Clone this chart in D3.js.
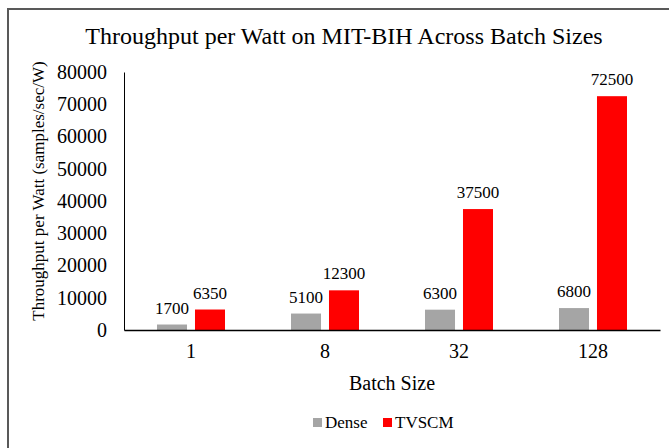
<!DOCTYPE html>
<html>
<head>
<meta charset="utf-8">
<script src="https://cdn.jsdelivr.net/npm/d3@7"></script>
<style>
  body { margin: 0; background: #fff; }
</style>
</head>
<body>
<div id="chart"></div>
<script>
// Chart data
const batchSizes = ["1", "8", "32", "128"];
const seriesNames = ["Dense", "TVSCM"];
const denseValues = [1700, 5100, 6300, 6800];
const tvscmValues = [6350, 12300, 37500, 72500];
const yTicks = [0, 10000, 20000, 30000, 40000, 50000, 60000, 70000, 80000];
const seriesColors = ["#a5a5a5", "#ff0000"];

const width = 669, height = 448;
const plot = {left: 124, right: 660, top: 72, bottom: 330};
const serif = "\"Liberation Serif\"";

let svg = d3.select("#chart")
            .append("svg")
            .attr("width", width)
            .attr("height", height)
            .style("font-family", serif);

// Chart border (right and bottom edges fall outside the picture)
svg.append("rect")
    .attr("x", 8)
    .attr("y", 9)
    .attr("width", 680)
    .attr("height", 460)
    .attr("fill", "white")
    .attr("stroke", "#595959")
    .attr("stroke-width", 2);

// Title
svg.append("text")
    .attr("x", 344)
    .attr("y", 44)
    .attr("text-anchor", "middle")
    .style("font-family", serif)
    .style("font-size", "24px")
    .text("Throughput per Watt on MIT-BIH Across Batch Sizes");

// Scales
let xScale = d3.scaleBand()
                .domain(batchSizes)
                .range([plot.left, plot.right]);

let xInner = d3.scaleBand()
                .domain(seriesNames)
                .range([33, xScale.bandwidth() - 33])
                .paddingInner(0.21);

let yScale = d3.scaleLinear()
                .domain([0, 80000])
                .range([plot.bottom, plot.top]);

// Y axis
let yAxis = svg.append("g")
    .attr("transform", `translate(${plot.left},0)`)
    .call(d3.axisLeft(yScale).tickValues(yTicks).tickFormat(d => d).tickSize(0).tickPadding(17));
yAxis.attr("font-family", null);
yAxis.select(".domain").attr("stroke", "#000");
yAxis.selectAll("text")
    .style("font-family", serif)
    .style("font-size", "20px");

// Y axis label
svg.append("text")
    .attr("transform", "rotate(-90)")
    .attr("x", -191)
    .attr("y", 44)
    .attr("text-anchor", "middle")
    .style("font-family", serif)
    .style("font-size", "17px")
    .text("Throughput per Watt (samples/sec/W)");

// Bars
const grouped = batchSizes.map((b, i) => ({
    batch: b,
    values: [
        {name: seriesNames[0], value: denseValues[i], color: seriesColors[0]},
        {name: seriesNames[1], value: tvscmValues[i], color: seriesColors[1]}
    ]
}));

let groups = svg.selectAll(".grp")
    .data(grouped)
    .enter()
    .append("g")
    .attr("transform", d => `translate(${xScale(d.batch)},0)`);

groups.selectAll("rect")
    .data(d => d.values)
    .enter()
    .append("rect")
    .attr("x", d => xInner(d.name))
    .attr("width", xInner.bandwidth())
    .attr("y", d => yScale(d.value))
    .attr("height", d => yScale(0) - yScale(d.value))
    .attr("fill", d => d.color);

groups.selectAll(".val")
    .data(d => d.values)
    .enter()
    .append("text")
    .attr("x", d => xInner(d.name) + xInner.bandwidth() / 2)
    .attr("y", d => yScale(d.value) - 11)
    .attr("text-anchor", "middle")
    .style("font-family", serif)
    .style("font-size", "17px")
    .text(d => d.value);

// X axis
let xAxis = svg.append("g")
    .attr("transform", `translate(0,${plot.bottom})`)
    .call(d3.axisBottom(xScale).tickSize(0).tickPadding(14).tickSizeOuter(0));
xAxis.attr("font-family", null);
xAxis.select(".domain").attr("stroke", "#000").attr("stroke-width", 1.5);
xAxis.selectAll("text")
    .style("font-family", serif)
    .style("font-size", "20px");

// X axis label
svg.append("text")
    .attr("x", (plot.left + plot.right) / 2)
    .attr("y", 390)
    .attr("text-anchor", "middle")
    .style("font-family", serif)
    .style("font-size", "20px")
    .text("Batch Size");

// Legend
const legendX = [313, 383];
seriesNames.forEach((name, i) => {
    svg.append("rect")
        .attr("x", legendX[i])
        .attr("y", 418)
        .attr("width", 9)
        .attr("height", 9)
        .attr("fill", seriesColors[i]);
    svg.append("text")
        .attr("x", legendX[i] + 12)
        .attr("y", 428)
        .style("font-family", serif)
        .style("font-size", "17px")
        .text(name);
});
</script>
</body>
</html>
